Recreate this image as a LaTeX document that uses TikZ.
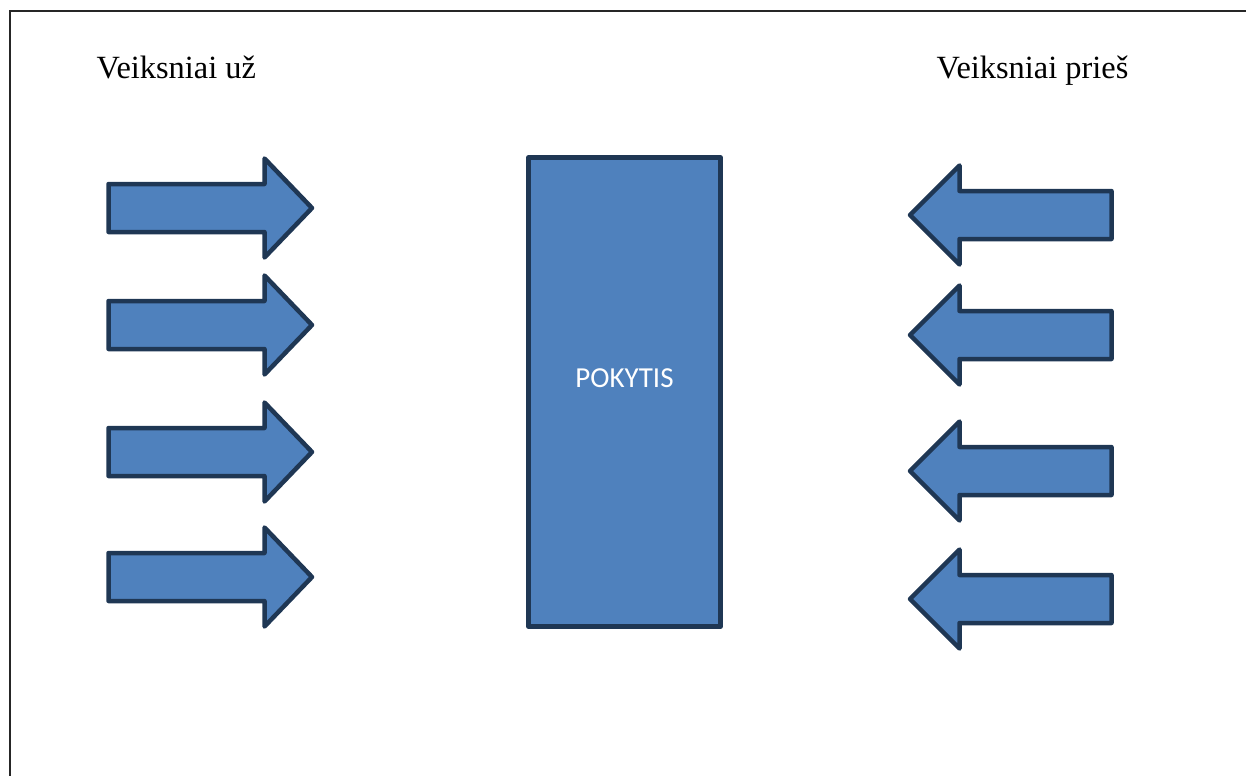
\documentclass[tikz,border=0pt]{standalone}
\usepackage{fontspec}
\setmainfont{Liberation Serif}
\newfontfamily\calfont{Carlito}
\definecolor{blockfill}{HTML}{4F81BD}
\definecolor{blockline}{HTML}{1F3754}
\tikzset{
  blockshape/.style={fill=blockfill, draw=blockline, line width=4.5pt, line join=round},
  titletext/.style={anchor=base west, inner sep=0pt, font=\fontsize{32.4}{39}\selectfont},
  frameline/.style={draw=black!85, line width=2pt}
}
\begin{document}
\begin{tikzpicture}[x=1pt,y=-1pt]
\useasboundingbox (0,0) rectangle (1246,776);
\draw[frameline] (1246,11) -- (10,11) -- (10,776);
\node[titletext] (tl) at (96.5,78) {Veiksniai už};
\node[titletext] (tr) at (936.5,78) {Veiksniai prieš};
% right-pointing arrows
\foreach \c in {208,325,452,577}{
  \draw[blockshape] (108.5,\c-24) -- (264.5,\c-24) -- (264.5,\c-49.5) -- (312,\c)
    -- (264.5,\c+49.5) -- (264.5,\c+24) -- (108.5,\c+24) -- cycle;
}
% left-pointing arrows
\foreach \c in {215,335,471,599}{
  \draw[blockshape] (1111.5,\c-24) -- (959.5,\c-24) -- (959.5,\c-49.5) -- (910,\c)
    -- (959.5,\c+49.5) -- (959.5,\c+24) -- (1111.5,\c+24) -- cycle;
}
\draw[blockshape] (528.5,157.5) rectangle (720.5,626.5);
\node[anchor=base, inner sep=0pt, text=white, font=\calfont\fontsize{29}{35}\selectfont] (pok) at (624.5,387) {POKYTIS};
\end{tikzpicture}
\end{document}
